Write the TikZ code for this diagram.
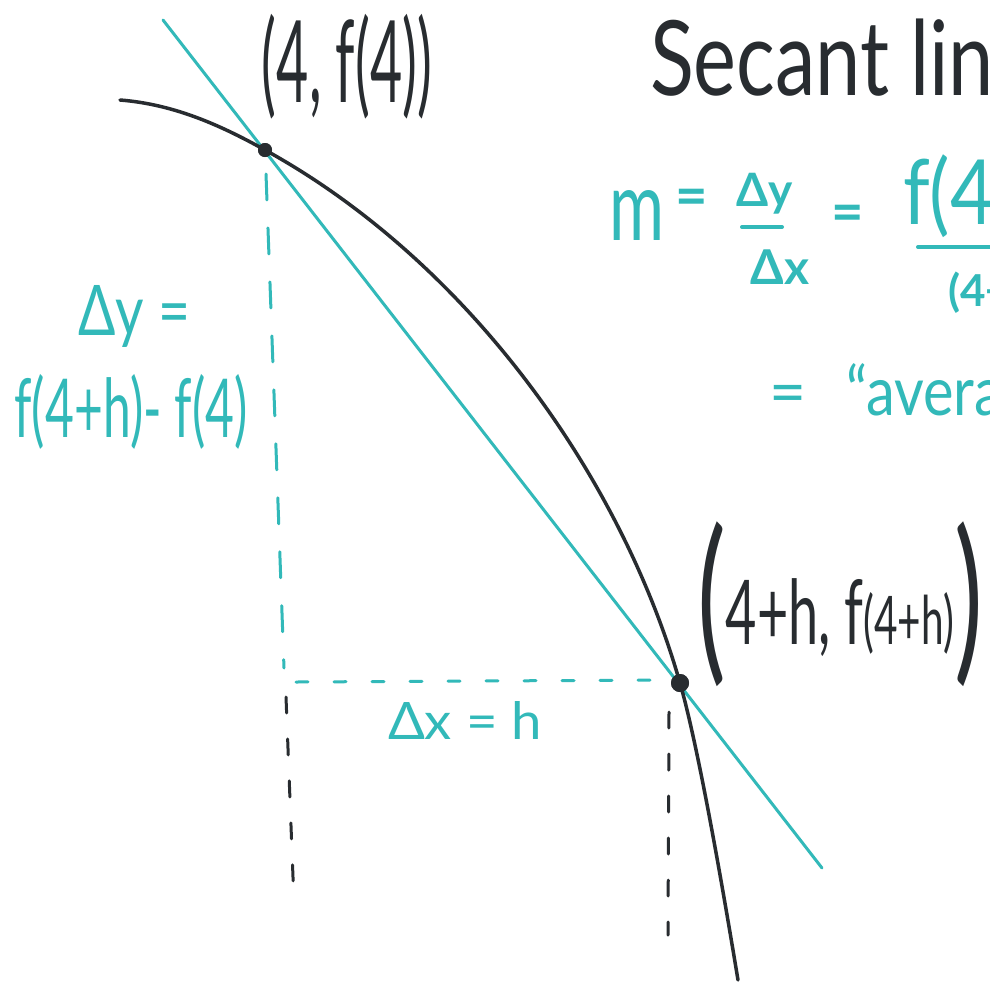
\documentclass[tikz,border=0pt]{standalone}
\usepackage{fontspec}
\setmainfont{Lato}
\usepackage{graphicx}
\definecolor{teal1}{RGB}{50,185,185}
\definecolor{ink}{RGB}{40,44,48}
\newcommand{\fitbox}[3]{\resizebox*{#1pt}{#2pt}{#3}}
\newcommand{\fs}[1]{\fontsize{#1}{#1}\selectfont}
\begin{document}
\begin{tikzpicture}[x=1pt,y=-1pt,
  lbl/.style={inner sep=0pt, outer sep=0pt},
  tl/.style={lbl, text=teal1},
  bl/.style={lbl, text=ink},
  curve/.style={draw=ink, line width=3.5pt, line cap=round},
  secant/.style={draw=teal1, line width=3pt, line cap=round},
  tdash/.style={draw=teal1, line width=3pt, dash pattern=on 26pt off 28pt, line cap=round},
  hdash/.style={draw=teal1, line width=3pt, dash pattern=on 12pt off 26pt, line cap=round},
  kdash/.style={draw=ink, line width=3pt, dash pattern=on 16pt off 26pt, line cap=round},
  dot/.style={circle, fill=ink, inner sep=0pt},
  fbar/.style={draw=teal1, line width=4pt, line cap=round}]
\useasboundingbox (0,0) rectangle (990,983);
\fill[white] (0,0) rectangle (990,983);
\clip (0,0) rectangle (990,983);

% secant line
\coordinate (S1) at (163,20);
\coordinate (S2) at (822,868);
\draw[secant] (S1) -- (S2);

% points
\coordinate (C0) at (120,100);
\coordinate (C3) at (738,980);
\node[dot, minimum size=14pt] (P) at (265,150) {};
\node[dot, minimum size=18pt] (Q) at (680,683) {};

% curve
\draw[curve] (C0) .. controls (170,104) and (215,122) .. (P.center)
  .. controls (465,260) and (620,473) .. (Q.center)
  .. controls (700,753) and (726,908) .. (C3);
\node[dot, minimum size=14pt] at (P) {};
\node[dot, minimum size=18pt] at (Q) {};

% dashed guides
\coordinate (vt1) at (266,174);
\coordinate (vt2) at (284,668);
\draw[tdash] (vt1) -- (vt2);
\coordinate (h1) at (296,682);
\coordinate (h2) at (666,680);
\draw[hdash] (h1) -- (h2);
\coordinate (kl1) at (286,697);
\coordinate (kl2) at (294,903);
\draw[kdash] (kl1) -- (kl2);
\coordinate (kr1) at (669,712);
\coordinate (kr2) at (668,935);
\draw[kdash] (kr1) -- (kr2);

% labels of points
\node[bl] (lblA) at (347,67) {\fitbox{170}{105}{\fs{80}(4, f(4))}};
\node[bl] (lblB) at (840,604) {\fitbox{286}{165}{\fs{80}\raisebox{-14pt}{\fs{160}(}4+h, f{\fs{60}(4+h)}\raisebox{-14pt}{\fs{160})}}};

% title
\node[bl, anchor=base west] (title) at (650,95) {\scalebox{0.78}[1]{\fs{104}Secant line}};

% slope formula
\node[tl] (m) at (637,215) {\fitbox{55}{50}{\fs{80}m}};
\node[tl] (eq1) at (692,202) {\fs{56}\bfseries =};
\node[tl] (dy) at (765,194) {\fs{46}\bfseries Δy};
\coordinate (b1a) at (742,227);
\coordinate (b1b) at (782,227);
\draw[fbar] (b1a) -- (b1b);
\node[tl] (dx) at (780,267) {\fs{48}\bfseries Δx};
\node[tl] (eq2) at (848,218) {\fs{56}\bfseries =};
\node[tl, anchor=base west] (num) at (903,224) {\scalebox{0.85}[1]{\fs{90}f(4+h) - f(4)}};
\coordinate (b2a) at (918,247);
\coordinate (b2b) at (1000,247);
\draw[fbar] (b2a) -- (b2b);
\node[tl, anchor=base west] (den) at (948,306) {\fs{44}\bfseries (4+h) - 4};
\node[tl] (eq3) at (788,400) {\fs{64}=};
\node[tl, anchor=base west] (avg) at (846,415) {\scalebox{0.85}[1]{\fs{68}“average rate of change”}};

% delta labels
\node[tl] (dyeq) at (134,316) {\fitbox{112}{62}{\fs{80}Δy =}};
\node[tl] (dyval) at (131,412) {\fitbox{233}{75}{\fs{80}f(4+h)- f(4)}};
\node[tl] (dxeq) at (465,720) {\fitbox{154}{38}{\fs{60}Δx = h}};
\end{tikzpicture}
\end{document}
